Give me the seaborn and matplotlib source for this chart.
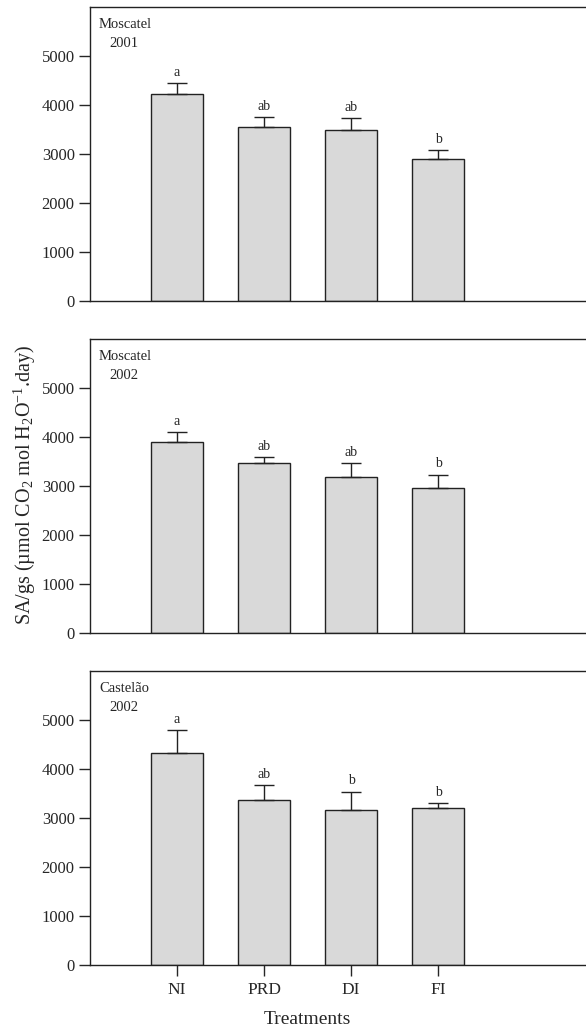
import matplotlib
matplotlib.use("Agg")
import matplotlib.pyplot as plt
import seaborn as sns
import pandas as pd

# data
treatments = ["NI", "PRD", "DI", "FI"]

mosc01_mean = [4235, 3560, 3500, 2900]
mosc01_err = [210, 205, 240, 175]
mosc01_letters = ["a", "ab", "ab", "b"]

mosc02_mean = [3895, 3470, 3195, 2970]
mosc02_err = [205, 130, 280, 265]
mosc02_letters = ["a", "ab", "ab", "b"]

cast02_mean = [4330, 3360, 3165, 3210]
cast02_err = [460, 315, 375, 90]
cast02_letters = ["a", "ab", "b", "b"]

panels = [
    ("Moscatel", "2001", mosc01_mean, mosc01_err, mosc01_letters),
    ("Moscatel", "2002", mosc02_mean, mosc02_err, mosc02_letters),
    ("Castelão", "2002", cast02_mean, cast02_err, cast02_letters),
]

sns.set_style("ticks")
plt.rcParams['font.family'] = ['Liberation Serif', 'DejaVu Serif']
plt.rcParams['mathtext.fontset'] = 'custom'
plt.rcParams['mathtext.rm'] = 'Liberation Serif'
plt.rcParams['mathtext.it'] = 'Liberation Serif:italic'
plt.rcParams['mathtext.default'] = 'rm'

fig = plt.figure(figsize=(5.86, 10.31), dpi=100)
bottoms = [0.708, 0.386, 0.064]
axes = [fig.add_axes([0.1536, b, 0.8464, 0.285]) for b in bottoms]

for i, (ax, (cultivar, year, mean, err, letters)) in enumerate(zip(axes, panels)):
    df = pd.DataFrame({"treatment": treatments, "value": mean})
    sns.barplot(data=df, x="treatment", y="value", ax=ax, color="#d9d9d9",
                edgecolor="#222222", linewidth=1.0, width=0.6, saturation=1)
    ax.errorbar(x=range(len(treatments)), y=mean, yerr=[[0] * len(err), err],
                fmt="none", ecolor="#222222", elinewidth=1.0, capsize=7, capthick=1.0)
    for xi, (m, e, lab) in enumerate(zip(mean, err, letters)):
        ax.annotate(lab, (xi, m + e), xytext=(0, 3), textcoords="offset points",
                    ha="center", va="bottom", fontsize=10)

    ax.set_xlim(-1.0, 4.7)
    ax.set_ylim(0, 6000)
    ax.set_yticks([0, 1000, 2000, 3000, 4000, 5000])
    ax.tick_params(axis="y", direction="out", length=8, width=1, labelsize=12, pad=3)
    ax.set_ylabel("")
    ax.set_xlabel("")
    for s in ["left", "bottom", "top"]:
        ax.spines[s].set_visible(True)
        ax.spines[s].set_linewidth(1.0)
        ax.spines[s].set_color("#222222")
    ax.spines["right"].set_visible(False)

    ax.text(0.018, 0.94, cultivar, transform=ax.transAxes, ha="left", va="center", fontsize=10.5)
    ax.text(0.069, 0.875, year, transform=ax.transAxes, ha="center", va="center", fontsize=10.5)

    if i < 2:
        ax.tick_params(axis="x", length=0, labelbottom=False)
    else:
        ax.tick_params(axis="x", direction="out", length=8, width=1, labelsize=12.5, pad=4)

fig.text(0.524, 0.0107, "Treatments", ha="center", va="center", fontsize=14)
fig.text(0.043, 0.53, "SA/gs (µmol CO$_2$ mol H$_2$O$^{-1}$.day)",
         rotation=90, ha="center", va="center", fontsize=14.5)

fig.savefig("out.png", dpi=100)
